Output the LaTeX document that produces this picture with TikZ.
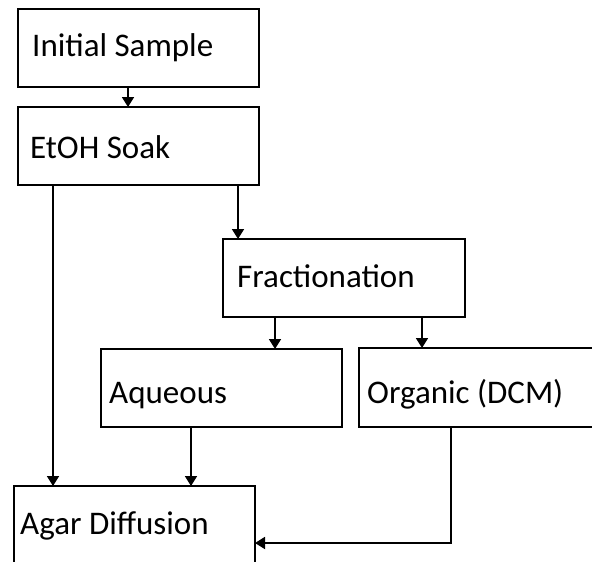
\documentclass[tikz,border=0pt]{standalone}
\usepackage{fontspec}
\setmainfont{Carlito}
\usetikzlibrary{arrows.meta,calc}
\begin{document}
\begin{tikzpicture}[x=1pt,y=-1pt,
  stagebox/.style={draw, line width=1.8pt, rectangle, inner sep=0pt, outer sep=0pt, anchor=north west},
  stagetext/.style={anchor=base west, inner sep=0pt, font=\fontsize{33}{40}\selectfont},
  flow/.style={line width=1.8pt, -{Triangle[width=12pt,length=10pt]}}]
  \useasboundingbox (0,0) rectangle (592,562);
  \clip (0,0) rectangle (592,562);
  \fill[white] (0,0) rectangle (592,562);

  % process boxes
  \node[stagebox, minimum width=241pt, minimum height=78pt] (init) at (18,9) {};
  \node[stagebox, minimum width=241pt, minimum height=78pt] (etoh) at (18,107) {};
  \node[stagebox, minimum width=242pt, minimum height=78pt] (frac) at (223,239) {};
  \node[stagebox, minimum width=241pt, minimum height=78pt] (aq) at (101,349) {};
  \node[stagebox, minimum width=241pt, minimum height=79pt] (org) at (359,348) {};
  \node[stagebox, minimum width=241pt, minimum height=110pt] (agar) at (14,486) {};

  % labels
  \node[stagetext] (tinit) at (32,56) {Initial Sample};
  \node[stagetext] (tetoh) at (30,158) {EtOH Soak};
  \node[stagetext] (tfrac) at (237,287) {Fractionation};
  \node[stagetext] (taq) at (109,403) {Aqueous};
  \node[stagetext] (torg) at (367,403) {Organic (DCM)};
  \node[stagetext] (tagar) at (20,534) {Agar Diffusion};

  % connectors
  \draw[flow] ([xshift=110pt]init.south west) -- ([xshift=110pt]etoh.north west);
  \draw[flow] ([xshift=220pt]etoh.south west) -- ([xshift=15pt]frac.north west);
  \draw[flow] ([xshift=35pt]etoh.south west) -- ([xshift=39pt]agar.north west);
  \draw[flow] ([xshift=52pt]frac.south west) -- ([xshift=174pt]aq.north west);
  \draw[flow] ([xshift=199pt]frac.south west) -- ([xshift=63pt]org.north west);
  \draw[flow] ([xshift=90pt]aq.south west) -- ([xshift=177pt]agar.north west);
  \coordinate (bend) at ([xshift=92pt,yshift=-116pt]org.south west);
  \draw[flow] ([xshift=92pt]org.south west) -- (bend) -- (bend -| agar.east);
\end{tikzpicture}
\end{document}
